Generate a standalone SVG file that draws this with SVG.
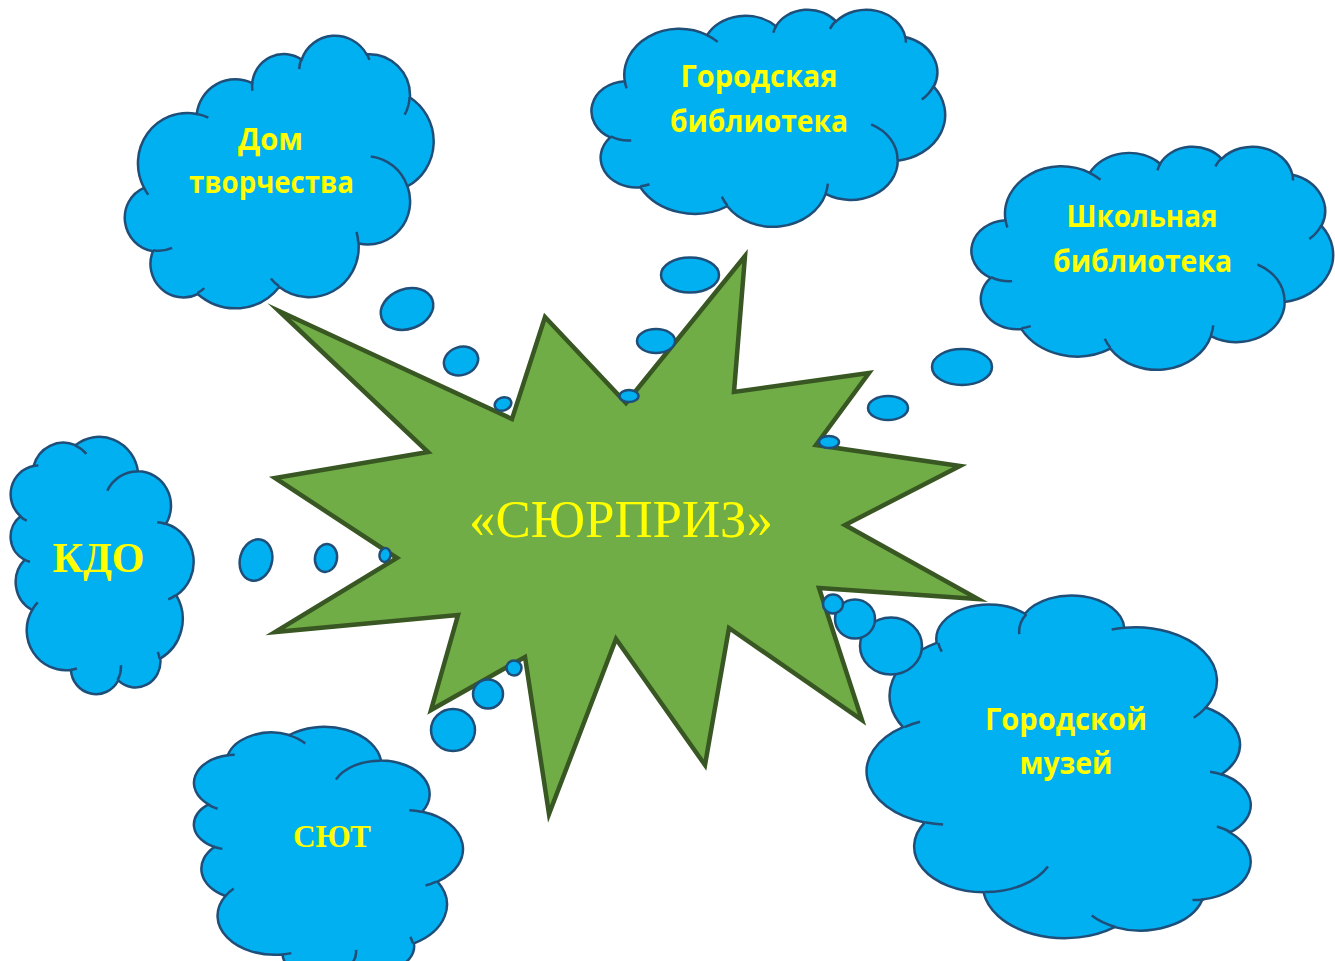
<svg xmlns="http://www.w3.org/2000/svg" xmlns:xlink="http://www.w3.org/1999/xlink" width="1335" height="961" viewBox="0 0 1335 961">
<style>
.cl{fill:#00B0F0;stroke:#1F4E79;stroke-width:2.5}
.cli{fill:none;stroke:#1F4E79;stroke-width:2.5}
.bub{fill:#00B0F0;stroke:#1F4E79;stroke-width:2.5}
.star{fill:#70AD47;stroke:#385723;stroke-width:4.5;stroke-linejoin:miter;stroke-miterlimit:12}
.ct{font-family:"Open Sans","DejaVu Sans",sans-serif;font-weight:700;font-size:30px;fill:#FFFF00;text-anchor:middle}
.st{font-family:"Liberation Serif","Times New Roman",serif;font-weight:700;fill:#FFFF00;text-anchor:middle}
.main{font-family:"Liberation Serif","Times New Roman",serif;font-size:53px;fill:#FFFF00;text-anchor:middle}
</style>
<defs>
<path id="cloud" vector-effect="non-scaling-stroke" d="M3900 14370 A6753 9190 0 0 1 14005 5202 A5333 7267 0 0 1 22456 3431 A4365 5945 0 0 1 29834 2480 A4857 6595 0 0 1 38319 5576 A5333 7273 0 0 1 41819 15459 A6775 9220 0 0 1 37406 30204 A5785 7867 0 0 1 28558 36815 A6752 9215 0 0 1 16483 39268 A7720 10543 0 0 1 5805 35476 A4360 5918 0 0 1 2114 25554 A4345 5945 0 0 1 3900 14370 Z"/>
<path id="cloudIn" vector-effect="non-scaling-stroke" d="M4693 26177 A4345 5945 0 0 1 2160 25380 M6928 34899 A4360 5918 0 0 1 5819 35281 M16478 39090 A6752 9215 0 0 1 15810 37347 M28827 34751 A6752 9215 0 0 1 28561 36659 M34129 22954 A5785 7867 0 0 1 37381 30090 M41798 15354 A5333 7273 0 0 1 40349 18031 M38324 5426 A4857 6595 0 0 1 38400 6690 M29078 3952 A4857 6595 0 0 1 29820 2339 M22141 4720 A4365 5945 0 0 1 22500 3330 M14000 5192 A6753 9190 0 0 1 15303 6544 M4127 15789 A6753 9190 0 0 1 3900 14371"/>
</defs>

<g id="node-dom-tvorchestva">
<g transform="translate(281,181) rotate(-20) scale(0.0074074,0.0056019) translate(-21600,-21600)">
<use href="#cloud" class="cl"/><use href="#cloudIn" class="cli"/>
</g>
<text class="ct" x="270.5" y="150" textLength="65" lengthAdjust="spacingAndGlyphs">Дом</text>
<text class="ct" x="271.5" y="193" textLength="165" lengthAdjust="spacingAndGlyphs">творчества</text>
</g>

<g id="node-gorodskaya-biblioteka">
<g transform="translate(593,9) scale(0.0081481,0.0050231)">
<use href="#cloud" class="cl"/><use href="#cloudIn" class="cli"/>
</g>
<text class="ct" x="759" y="87" textLength="157" lengthAdjust="spacingAndGlyphs">Городская</text>
<text class="ct" x="759" y="132" textLength="178" lengthAdjust="spacingAndGlyphs">библиотека</text>
</g>

<g id="node-shkolnaya-biblioteka">
<g transform="translate(973,146) scale(0.0083333,0.0051620)">
<use href="#cloud" class="cl"/><use href="#cloudIn" class="cli"/>
</g>
<text class="ct" x="1142" y="227" textLength="151" lengthAdjust="spacingAndGlyphs">Школьная</text>
<text class="ct" x="1142.5" y="272" textLength="179" lengthAdjust="spacingAndGlyphs">библиотека</text>
</g>

<g id="node-kdo">
<g transform="translate(101.5,565) rotate(-90) scale(0.0059259,0.0042361) translate(-21600,-21600)">
<use href="#cloud" class="cl"/><use href="#cloudIn" class="cli"/>
</g>
<text class="st" x="98.5" y="572" font-size="42" textLength="92" lengthAdjust="spacingAndGlyphs">КДО</text>
</g>

<g id="node-syut">
<g transform="translate(327.5,852) rotate(-90) scale(0.0057870,0.0062269) translate(-21600,-21600)">
<use href="#cloud" class="cl"/><use href="#cloudIn" class="cli"/>
</g>
<text class="st" x="332" y="847" font-size="32" textLength="78" lengthAdjust="spacingAndGlyphs">СЮТ</text>
</g>

<g id="node-gorodskoy-muzey">
<g transform="translate(1060,767.5) rotate(90) scale(0.0078935,0.0088889) translate(-21600,-21600)">
<use href="#cloud" class="cl"/><use href="#cloudIn" class="cli"/>
</g>
<text class="ct" x="1066" y="730" textLength="162" lengthAdjust="spacingAndGlyphs">Городской</text>
<text class="ct" x="1066" y="774" textLength="93" lengthAdjust="spacingAndGlyphs">музей</text>
</g>

<g id="node-surprise">
<polygon class="star" points="279,311 512,419 545,317 626,403 745,256 734,392 869,373 816,445 960,466 845,525 978,599 819,588 862,720 729,628 705,765 616,639 549,814 525,657 431,710 458,615 275,632 397,558 275,478 428,452"/>
<text class="main" x="621" y="537" textLength="304" lengthAdjust="spacingAndGlyphs">«СЮРПРИЗ»</text>
</g>

<g id="connectors">
<ellipse class="bub" cx="407" cy="309" rx="27" ry="20" transform="rotate(-20 407 309)"/>
<ellipse class="bub" cx="461" cy="361" rx="17.5" ry="14" transform="rotate(-20 461 361)"/>
<ellipse class="bub" cx="503" cy="404" rx="8.5" ry="6.5" transform="rotate(-20 503 404)"/>
<ellipse class="bub" cx="690" cy="275" rx="29" ry="17.5"/>
<ellipse class="bub" cx="656" cy="341" rx="19" ry="12"/>
<ellipse class="bub" cx="629" cy="396" rx="9.5" ry="6"/>
<ellipse class="bub" cx="962" cy="367" rx="30" ry="18"/>
<ellipse class="bub" cx="888" cy="408" rx="20" ry="12"/>
<ellipse class="bub" cx="829" cy="442" rx="10" ry="6"/>
<ellipse class="bub" cx="256" cy="560" rx="16" ry="21" transform="rotate(15 256 560)"/>
<ellipse class="bub" cx="326" cy="558" rx="11" ry="14" transform="rotate(10 326 558)"/>
<ellipse class="bub" cx="385" cy="555" rx="5.5" ry="7" transform="rotate(10 385 555)"/>
<ellipse class="bub" cx="453" cy="730" rx="22" ry="21"/>
<ellipse class="bub" cx="488" cy="694" rx="15" ry="14.5"/>
<ellipse class="bub" cx="514" cy="668" rx="7.5" ry="7.5"/>
<ellipse class="bub" cx="891" cy="646" rx="31" ry="28.5"/>
<ellipse class="bub" cx="855" cy="619" rx="20" ry="19.5"/>
<ellipse class="bub" cx="833" cy="604" rx="10" ry="9.5"/>
</g>
</svg>
